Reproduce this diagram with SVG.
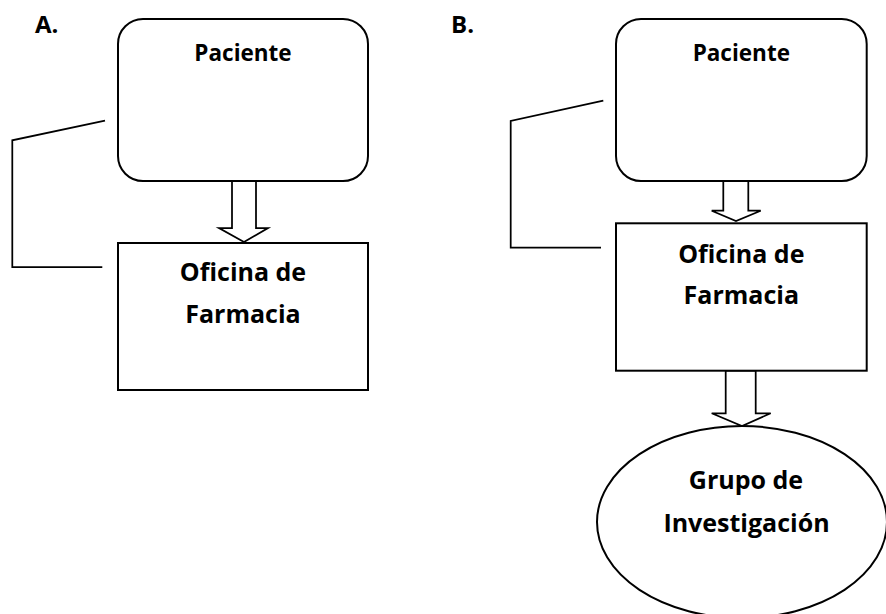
<svg xmlns="http://www.w3.org/2000/svg" width="886" height="614" viewBox="0 0 886 614">
<style>
.box{fill:#fff;stroke:#000;stroke-width:2}
.arrow{fill:#fff;stroke:#000;stroke-width:1.75;stroke-linejoin:miter}
.line{fill:none;stroke:#000;stroke-width:1.75}
text{font-family:"Open Sans","Liberation Sans",sans-serif;font-weight:bold;fill:#000;text-anchor:middle}
.sm{font-size:22.5px}
.lg{font-size:25px}
.lbl{font-size:24px;text-anchor:start}
</style>
<rect width="886" height="614" fill="#fff"/>
<text class="lbl" x="35" y="33">A.</text>
<text class="lbl" x="451" y="33">B.</text>
<g id="connectors">
<polyline class="line" points="105,120.7 12.3,140.3 12.3,267 102.3,267"/>
<polyline class="line" points="603.3,100.7 510.7,121 510.7,247.7 601,247.7"/>
<polygon class="arrow" points="232,181 232,228 219,228 244,242 268,228 256,228 256,181"/>
<polygon class="arrow" points="723.3,181 723.3,210.7 711.7,210.7 736,221 760.7,210.7 748.3,210.7 748.3,181"/>
<polygon class="arrow" points="725.7,370.7 725.7,413.3 711.7,413.3 742,426 770.7,413.3 755.7,413.3 755.7,370.7"/>
</g>
<g id="a-paciente">
<rect class="box" x="118" y="19" width="250" height="162" rx="25" ry="25"/>
<text class="sm" x="243" y="61">Paciente</text>
</g>
<g id="a-oficina">
<rect class="box" x="118" y="243" width="250" height="147"/>
<text class="lg" x="243" y="281">Oficina de</text>
<text class="lg" x="243" y="323">Farmacia</text>
</g>
<g id="b-paciente">
<rect class="box" x="616" y="19" width="250.7" height="162" rx="25" ry="25"/>
<text class="sm" x="741.3" y="61">Paciente</text>
</g>
<g id="b-oficina">
<rect class="box" x="616" y="223.3" width="250.7" height="147.4"/>
<text class="lg" x="741.3" y="262.5">Oficina de</text>
<text class="lg" x="741.3" y="304">Farmacia</text>
</g>
<g id="b-grupo">
<ellipse class="box" cx="742" cy="522" rx="145" ry="96"/>
<text class="lg" x="746" y="489">Grupo de</text>
<text class="lg" x="746.5" y="531.5">Investigación</text>
</g>
</svg>
